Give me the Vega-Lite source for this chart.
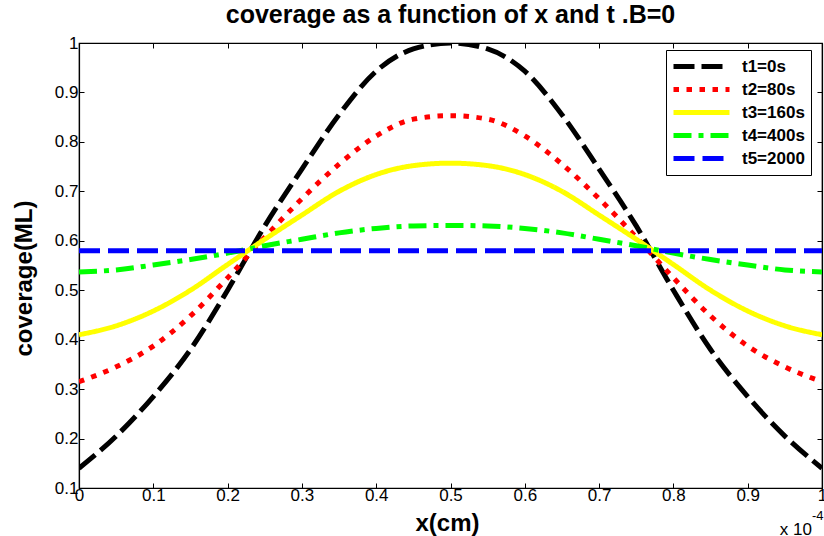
{
  "$schema": "https://vega.github.io/schema/vega-lite/v6.json",
  "width": 743,
  "height": 445,
  "autosize": "none",
  "padding": {"left": 79, "top": 43, "right": 2, "bottom": 48},
  "background": "white",
  "title": {"text": "coverage as a function of x and t .B=0", "font": "Liberation Sans", "fontSize": 25, "fontWeight": "bold", "color": "black", "offset": 6},
  "datasets": {
    "curves": [
      {"x": 0, "v": 0.14, "s": "t1=0s"}, {"x": 0.05, "v": 0.205, "s": "t1=0s"}, {"x": 0.1, "v": 0.285, "s": "t1=0s"}, {"x": 0.15, "v": 0.38, "s": "t1=0s"}, {"x": 0.2, "v": 0.5, "s": "t1=0s"}, {"x": 0.25, "v": 0.63, "s": "t1=0s"}, {"x": 0.3, "v": 0.745, "s": "t1=0s"}, {"x": 0.35, "v": 0.855, "s": "t1=0s"}, {"x": 0.4, "v": 0.943, "s": "t1=0s"}, {"x": 0.45, "v": 0.988, "s": "t1=0s"}, {"x": 0.5, "v": 1.0, "s": "t1=0s"}, {"x": 0.55, "v": 0.988, "s": "t1=0s"}, {"x": 0.6, "v": 0.943, "s": "t1=0s"}, {"x": 0.65, "v": 0.855, "s": "t1=0s"}, {"x": 0.7, "v": 0.745, "s": "t1=0s"}, {"x": 0.75, "v": 0.63, "s": "t1=0s"}, {"x": 0.8, "v": 0.5, "s": "t1=0s"}, {"x": 0.85, "v": 0.38, "s": "t1=0s"}, {"x": 0.9, "v": 0.285, "s": "t1=0s"}, {"x": 0.95, "v": 0.205, "s": "t1=0s"}, {"x": 1.0, "v": 0.14, "s": "t1=0s"},
      {"x": 0, "v": 0.315, "s": "t2=80s"}, {"x": 0.05, "v": 0.345, "s": "t2=80s"}, {"x": 0.1, "v": 0.387, "s": "t2=80s"}, {"x": 0.15, "v": 0.448, "s": "t2=80s"}, {"x": 0.2, "v": 0.525, "s": "t2=80s"}, {"x": 0.25, "v": 0.607, "s": "t2=80s"}, {"x": 0.3, "v": 0.685, "s": "t2=80s"}, {"x": 0.35, "v": 0.755, "s": "t2=80s"}, {"x": 0.4, "v": 0.812, "s": "t2=80s"}, {"x": 0.45, "v": 0.846, "s": "t2=80s"}, {"x": 0.5, "v": 0.853, "s": "t2=80s"}, {"x": 0.55, "v": 0.846, "s": "t2=80s"}, {"x": 0.6, "v": 0.812, "s": "t2=80s"}, {"x": 0.65, "v": 0.755, "s": "t2=80s"}, {"x": 0.7, "v": 0.685, "s": "t2=80s"}, {"x": 0.75, "v": 0.607, "s": "t2=80s"}, {"x": 0.8, "v": 0.525, "s": "t2=80s"}, {"x": 0.85, "v": 0.448, "s": "t2=80s"}, {"x": 0.9, "v": 0.387, "s": "t2=80s"}, {"x": 0.95, "v": 0.345, "s": "t2=80s"}, {"x": 1.0, "v": 0.315, "s": "t2=80s"},
      {"x": 0, "v": 0.41, "s": "t3=160s"}, {"x": 0.05, "v": 0.428, "s": "t3=160s"}, {"x": 0.1, "v": 0.458, "s": "t3=160s"}, {"x": 0.15, "v": 0.5, "s": "t3=160s"}, {"x": 0.2, "v": 0.552, "s": "t3=160s"}, {"x": 0.25, "v": 0.603, "s": "t3=160s"}, {"x": 0.3, "v": 0.652, "s": "t3=160s"}, {"x": 0.35, "v": 0.7, "s": "t3=160s"}, {"x": 0.4, "v": 0.734, "s": "t3=160s"}, {"x": 0.45, "v": 0.752, "s": "t3=160s"}, {"x": 0.5, "v": 0.757, "s": "t3=160s"}, {"x": 0.55, "v": 0.752, "s": "t3=160s"}, {"x": 0.6, "v": 0.734, "s": "t3=160s"}, {"x": 0.65, "v": 0.7, "s": "t3=160s"}, {"x": 0.7, "v": 0.652, "s": "t3=160s"}, {"x": 0.75, "v": 0.603, "s": "t3=160s"}, {"x": 0.8, "v": 0.552, "s": "t3=160s"}, {"x": 0.85, "v": 0.5, "s": "t3=160s"}, {"x": 0.9, "v": 0.458, "s": "t3=160s"}, {"x": 0.95, "v": 0.428, "s": "t3=160s"}, {"x": 1.0, "v": 0.41, "s": "t3=160s"},
      {"x": 0, "v": 0.537, "s": "t4=400s"}, {"x": 0.05, "v": 0.541, "s": "t4=400s"}, {"x": 0.1, "v": 0.551, "s": "t4=400s"}, {"x": 0.15, "v": 0.562, "s": "t4=400s"}, {"x": 0.2, "v": 0.575, "s": "t4=400s"}, {"x": 0.25, "v": 0.59, "s": "t4=400s"}, {"x": 0.3, "v": 0.603, "s": "t4=400s"}, {"x": 0.35, "v": 0.616, "s": "t4=400s"}, {"x": 0.4, "v": 0.625, "s": "t4=400s"}, {"x": 0.45, "v": 0.63, "s": "t4=400s"}, {"x": 0.5, "v": 0.631, "s": "t4=400s"}, {"x": 0.55, "v": 0.63, "s": "t4=400s"}, {"x": 0.6, "v": 0.625, "s": "t4=400s"}, {"x": 0.65, "v": 0.616, "s": "t4=400s"}, {"x": 0.7, "v": 0.603, "s": "t4=400s"}, {"x": 0.75, "v": 0.59, "s": "t4=400s"}, {"x": 0.8, "v": 0.575, "s": "t4=400s"}, {"x": 0.85, "v": 0.562, "s": "t4=400s"}, {"x": 0.9, "v": 0.551, "s": "t4=400s"}, {"x": 0.95, "v": 0.541, "s": "t4=400s"}, {"x": 1.0, "v": 0.537, "s": "t4=400s"},
      {"x": 0, "v": 0.58, "s": "t5=2000"}, {"x": 0.05, "v": 0.58, "s": "t5=2000"}, {"x": 0.1, "v": 0.58, "s": "t5=2000"}, {"x": 0.15, "v": 0.58, "s": "t5=2000"}, {"x": 0.2, "v": 0.58, "s": "t5=2000"}, {"x": 0.25, "v": 0.58, "s": "t5=2000"}, {"x": 0.3, "v": 0.58, "s": "t5=2000"}, {"x": 0.35, "v": 0.58, "s": "t5=2000"}, {"x": 0.4, "v": 0.58, "s": "t5=2000"}, {"x": 0.45, "v": 0.58, "s": "t5=2000"}, {"x": 0.5, "v": 0.58, "s": "t5=2000"}, {"x": 0.55, "v": 0.58, "s": "t5=2000"}, {"x": 0.6, "v": 0.58, "s": "t5=2000"}, {"x": 0.65, "v": 0.58, "s": "t5=2000"}, {"x": 0.7, "v": 0.58, "s": "t5=2000"}, {"x": 0.75, "v": 0.58, "s": "t5=2000"}, {"x": 0.8, "v": 0.58, "s": "t5=2000"}, {"x": 0.85, "v": 0.58, "s": "t5=2000"}, {"x": 0.9, "v": 0.58, "s": "t5=2000"}, {"x": 0.95, "v": 0.58, "s": "t5=2000"}, {"x": 1.0, "v": 0.58, "s": "t5=2000"}
    ]
  },
  "layer": [
    {
      "data": {"name": "curves"},
      "mark": {"type": "line", "strokeWidth": 5, "interpolate": "monotone", "clip": true, "strokeCap": "butt"},
      "encoding": {
        "x": {"field": "x", "type": "quantitative", "scale": {"domain": [0, 1], "nice": false, "zero": false},
              "axis": {"orient": "bottom", "values": [0, 0.1, 0.2, 0.3, 0.4, 0.5, 0.6, 0.7, 0.8, 0.9, 1], "format": ".1~f", "title": "x(cm)", "tickSize": -5, "labelPadding": 4, "labelFlush": false,
                       "labelFont": "Liberation Sans", "labelFontSize": 17, "labelColor": "black",
                       "titleX": 368, "titleY": 42, "titleBaseline": "alphabetic", "titleAnchor": "middle", "titleAlign": "center"}},
        "y": {"field": "v", "type": "quantitative", "scale": {"domain": [0.1, 1], "nice": false, "zero": false},
              "axis": {"orient": "left", "values": [0.1, 0.2, 0.3, 0.4, 0.5, 0.6, 0.7, 0.8, 0.9, 1], "format": ".1~f", "title": "coverage(ML)", "tickSize": -5, "labelPadding": 6,
                       "labelFont": "Liberation Sans", "labelFontSize": 17, "labelColor": "black",
                       "titleX": -43, "titleY": 235, "titleAlign": "center"}},
        "color": {"field": "s", "type": "nominal",
                  "scale": {"domain": ["t1=0s", "t2=80s", "t3=160s", "t4=400s", "t5=2000"], "range": ["#000000", "#ff0000", "#ffff00", "#00ff00", "#0000ff"]},
                  "legend": {"title": null, "orient": "none", "legendX": 587, "legendY": 7}},
        "strokeDash": {"field": "s", "type": "nominal",
                  "scale": {"domain": ["t1=0s", "t2=80s", "t3=160s", "t4=400s", "t5=2000"], "range": [[21, 7], [5.5, 7.5], [1, 0], [18, 7, 5, 7], [21, 8]]},
                  "legend": {"title": null, "orient": "none", "legendX": 587, "legendY": 7}}
      }
    },
    {
      "data": {"name": "curves"},
      "mark": {"type": "line", "opacity": 0, "strokeOpacity": 0},
      "encoding": {
        "x": {"field": "x", "type": "quantitative", "axis": {"orient": "top", "values": [0, 0.1, 0.2, 0.3, 0.4, 0.5, 0.6, 0.7, 0.8, 0.9, 1], "labels": false, "title": null, "tickSize": -5}},
        "y": {"field": "v", "type": "quantitative", "axis": {"orient": "right", "values": [0.1, 0.2, 0.3, 0.4, 0.5, 0.6, 0.7, 0.8, 0.9, 1], "labels": false, "title": null, "tickSize": -5}}
      }
    },
    {
      "data": {"values": [{"label": "x 10"}]},
      "mark": {"type": "text", "align": "right", "baseline": "alphabetic", "dx": -10, "dy": 47, "font": "Liberation Sans", "fontSize": 17, "color": "black"},
      "encoding": {
        "x": {"datum": 1, "type": "quantitative", "axis": null},
        "y": {"datum": 0.1, "type": "quantitative", "axis": null},
        "text": {"field": "label"}
      }
    },
    {
      "data": {"values": [{"label": "-4"}]},
      "mark": {"type": "text", "align": "left", "baseline": "alphabetic", "dx": -10, "dy": 32, "font": "Liberation Sans", "fontSize": 13, "color": "black"},
      "encoding": {
        "x": {"datum": 1, "type": "quantitative", "axis": null},
        "y": {"datum": 0.1, "type": "quantitative", "axis": null},
        "text": {"field": "label"}
      }
    }
  ],
  "resolve": {"axis": {"x": "independent", "y": "independent"}},
  "config": {
    "view": {"stroke": "black", "strokeWidth": 1.2},
    "axis": {"grid": false, "domainColor": "black", "domainWidth": 1.2, "tickColor": "black", "tickWidth": 1, "labelColor": "black", "labelFont": "Liberation Sans", "labelFontSize": 17, "titleFont": "Liberation Sans", "titleFontSize": 24, "titleFontWeight": "bold", "titleColor": "black"},
    "legend": {"strokeColor": "black", "fillColor": "white", "padding": 6, "symbolType": "M-3.5,0H3.5", "symbolSize": 256, "symbolStrokeWidth": 5, "symbolOffset": 19, "labelFont": "Liberation Sans", "labelFontSize": 17, "labelFontWeight": "bold", "labelColor": "black", "rowPadding": 2, "labelOffset": 30, "labelLimit": 200}
  }
}
